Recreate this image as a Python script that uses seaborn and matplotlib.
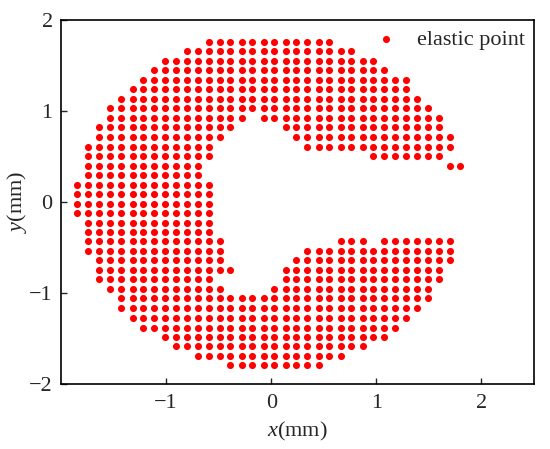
import seaborn as sns
import matplotlib.pyplot as plt
import pandas as pd

# ------------------------------------------------------------
# Data: elastic points on a regular grid
# ------------------------------------------------------------
# grid column centres (mm)
x_cols = [-1.85, -1.74, -1.64, -1.53, -1.43, -1.32, -1.22, -1.12, -1.01,
          -0.91, -0.80, -0.70, -0.59, -0.49, -0.39, -0.28, -0.18, -0.07,
          0.03, 0.14, 0.24, 0.34, 0.45, 0.55, 0.66, 0.76, 0.87, 0.97,
          1.07, 1.18, 1.28, 1.39, 1.49, 1.60, 1.70, 1.80]

# grid row centres (mm), top to bottom
y_rows = [1.76, 1.66, 1.55, 1.45, 1.34, 1.24, 1.13, 1.03, 0.92, 0.82,
          0.72, 0.61, 0.51, 0.40, 0.30, 0.19, 0.09, -0.02, -0.12, -0.23,
          -0.33, -0.43, -0.54, -0.64, -0.75, -0.85, -0.96, -1.06, -1.17,
          -1.27, -1.38, -1.48, -1.58, -1.69, -1.79]

# occupied column runs (first, last) for every row
row_runs = [
    [(12, 23)],
    [(10, 25)],
    [(8, 27)],
    [(7, 28)],
    [(6, 30)],
    [(5, 30)],
    [(4, 31)],
    [(3, 32)],
    [(3, 15), (17, 33)],
    [(2, 14), (19, 33)],
    [(2, 13), (20, 34)],
    [(1, 12), (21, 34)],
    [(1, 12), (27, 33)],
    [(1, 11), (34, 35)],
    [(1, 11)],
    [(0, 12)],
    [(0, 12)],
    [(0, 12)],
    [(0, 12)],
    [(1, 12)],
    [(1, 12)],
    [(1, 13), (24, 26), (28, 34)],
    [(1, 13), (21, 34)],
    [(2, 13), (20, 34)],
    [(2, 14), (19, 33)],
    [(2, 12), (19, 33)],
    [(3, 13), (18, 32)],
    [(4, 32)],
    [(4, 31)],
    [(5, 30)],
    [(6, 29)],
    [(8, 28)],
    [(9, 26)],
    [(11, 24)],
    [(14, 22)],
]

xs, ys = [], []
for y, runs in zip(y_rows, row_runs):
    for a, b in runs:
        for i in range(a, b + 1):
            xs.append(x_cols[i])
            ys.append(y)
points = pd.DataFrame({"x": xs, "y": ys})

# ------------------------------------------------------------
# Plot
# ------------------------------------------------------------
sns.set_style("ticks")
plt.rcParams["font.family"] = ["Liberation Serif", "DejaVu Serif"]
plt.rcParams["mathtext.fontset"] = "custom"
plt.rcParams["mathtext.rm"] = "Liberation Serif"
plt.rcParams["mathtext.it"] = "Liberation Serif:italic"

fig, ax = plt.subplots(figsize=(5.5, 4.49), dpi=100)
fig.subplots_adjust(left=0.111, right=0.971, bottom=0.145, top=0.955)

sns.scatterplot(data=points, x="x", y="y", color="#ff0000", s=26,
                linewidth=0, label="elastic point", ax=ax)

ax.set_xlim(-2, 2.5)
ax.set_ylim(-2, 2)
ax.set_xticks([-1, 0, 1, 2])
ax.set_yticks([-2, -1, 0, 1, 2])
ax.set_xlabel(r"$\it{x}$(mm)", fontsize=16, labelpad=5)
ax.set_ylabel(r"$\it{y}$(mm)", fontsize=16, labelpad=0)
ax.tick_params(direction="in", length=4, width=1, labelsize=16,
               top=False, right=False)
ax.tick_params(axis="x", pad=7)
ax.tick_params(axis="y", pad=6)
for sp in ax.spines.values():
    sp.set_linewidth(1.2)
    sp.set_color("black")

ax.legend(loc="upper right", frameon=False, fontsize=16,
          handletextpad=0.4, borderaxespad=0.2, borderpad=0.2)

fig.savefig("out.png", dpi=100)
plt.close(fig)
